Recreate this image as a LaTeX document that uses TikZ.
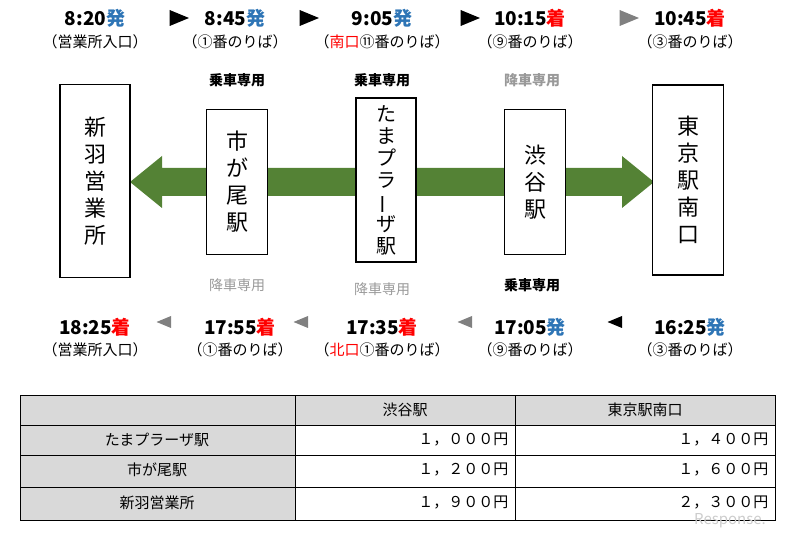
\documentclass[tikz,border=0pt]{standalone}
\usepackage{fontspec}
\setmainfont{Noto Sans CJK JP}
\usetikzlibrary{shapes.geometric}
\definecolor{hatsu}{RGB}{46,117,182}
\definecolor{chaku}{RGB}{255,0,0}
\definecolor{arrowgreen}{RGB}{84,130,53}
\definecolor{cellgray}{RGB}{217,217,217}
\newcommand{\hatsu}{\textcolor{hatsu}{発}}
\newcommand{\chaku}{\textcolor{chaku}{着}}
\newcommand{\vbar}{\rotatebox[origin=c]{90}{ー}}
\tikzset{
  time/.style={font=\bfseries\fontsize{19}{19}\selectfont},
  place/.style={font=\fontsize{15}{15}\selectfont},
  stop/.style={draw, line width=1.6pt, align=center, font=\fontsize{22}{27}\selectfont, inner sep=0pt},
  only/.style={font=\bfseries\fontsize{14}{14}\selectfont},
  tri/.style={isosceles triangle, fill, inner sep=0pt, minimum height=14pt, minimum width=16pt},
  cell/.style={font=\fontsize{15}{15}\selectfont}
}
\begin{document}
\begin{tikzpicture}[x=1pt,y=-1pt]
        \useasboundingbox (0,0) rectangle (796,540);
        % green arrow
        \fill[arrowgreen] (130,182) -- (162,156) -- (162,168) -- (622,168) -- (622,156) -- (654,182) -- (622,208) -- (622,196) -- (162,196) -- (162,208) -- cycle;
        % stops
        \node[stop, fill=white, minimum width=70pt, minimum height=193pt] (niwa) at (95,181) {新\\羽\\営\\業\\所};
        \node[stop, fill=white, minimum width=61pt, minimum height=145pt] (ichigao) at (237,182) {市\\が\\尾\\駅};
        \node[stop, fill=white, minimum width=60pt, minimum height=164pt, font=\fontsize{20}{22}\selectfont] (tama) at (386,180) {た\\ま\\プ\\ラ\\\vbar\\ザ\\駅};
        \node[stop, fill=white, minimum width=61pt, minimum height=145pt] (shibuya) at (535,182) {渋\\谷\\駅};
        \node[stop, fill=white, minimum width=71pt, minimum height=190pt] (tokyo) at (688,180) {東\\京\\駅\\南\\口};
        % boarding notes
        \node[only] (u1) at (237,80) {乗車専用};
        \node[only] (u2) at (382,80) {乗車専用};
        \node[only, gray!80] (u3) at (532,80) {降車専用};
        \node[only, gray!80, font=\fontsize{14}{14}\selectfont] (d1) at (237,285) {降車専用};
        \node[only, gray!80, font=\fontsize{14}{14}\selectfont] (d2) at (382,289) {降車専用};
        \node[only] (d3) at (532,285) {乗車専用};
        % outbound
        \node[time] (t1) at (95,18) {8:20\hatsu};
        \node[time] (t2) at (235,18) {8:45\hatsu};
        \node[time] (t3) at (382,18) {9:05\hatsu};
        \node[time] (t4) at (530,18) {10:15\chaku};
        \node[time] (t5) at (690,18) {10:45\chaku};
        \node[place] (p1) at (95,42) {（営業所入口）};
        \node[place] (p2) at (235,42) {（①番のりば）};
        \node[place] (p3) at (382,42) {（\textcolor{chaku}{南口}⑪番のりば）};
        \node[place] (p4) at (530,42) {（⑨番のりば）};
        \node[place] (p5) at (690,42) {（③番のりば）};
        \node[tri] (a1) at (175,18) {};
        \node[tri] (a2) at (305,18) {};
        \node[tri] (a3) at (466,18) {};
        \node[tri, gray] (a4) at (625,18) {};
        % inbound
        \node[time] (r1) at (95,327) {18:25\chaku};
        \node[time] (r2) at (240,327) {17:55\chaku};
        \node[time] (r3) at (382,327) {17:35\chaku};
        \node[time] (r4) at (530,327) {17:05\hatsu};
        \node[time] (r5) at (690,327) {16:25\hatsu};
        \node[place] (q1) at (95,350) {（営業所入口）};
        \node[place] (q2) at (240,350) {（①番のりば）};
        \node[place] (q3) at (382,350) {（\textcolor{chaku}{北口}①番のりば）};
        \node[place] (q4) at (530,350) {（⑨番のりば）};
        \node[place] (q5) at (690,350) {（③番のりば）};
        \node[tri, gray, shape border rotate=180, minimum height=10pt, minimum width=12pt] (b1) at (167,322) {};
        \node[tri, gray, shape border rotate=180, minimum height=10pt, minimum width=12pt] (b2) at (304,322) {};
        \node[tri, gray, shape border rotate=180, minimum height=10pt, minimum width=12pt] (b3) at (468,322) {};
        \node[tri, shape border rotate=180, minimum height=10pt, minimum width=12pt] (b4) at (618,322) {};
        % fare table
        \fill[cellgray] (20,395) rectangle (775,425);
        \fill[cellgray] (20,425) rectangle (295,520);
        \draw[line width=.8pt] (20,395) rectangle (775,520);
        \foreach \y in {425,455,487}
        \draw[line width=.6pt] (20,\y) -- (775,\y);
        \foreach \x in {295,515}
        \draw[line width=.6pt] (\x,395) -- (\x,520);
        \node[cell] (h1) at (405,410) {渋谷駅};
        \node[cell] (h2) at (645,410) {東京駅南口};
        \node[cell] (s1) at (157,440) {たまプラーザ駅};
        \node[cell] (s2) at (157,470) {市が尾駅};
        \node[cell] (s3) at (157,503) {新羽営業所};
        \node[cell, anchor=east] (f11) at (512,440) {１，０００円};
        \node[cell, anchor=east] (f12) at (772,440) {１，４００円};
        \node[cell, anchor=east] (f21) at (512,470) {１，２００円};
        \node[cell, anchor=east] (f22) at (772,470) {１，６００円};
        \node[cell, anchor=east] (f31) at (512,503) {１，９００円};
        \node[cell, anchor=east] (f32) at (772,503) {２，３００円};
        \node[gray!40, font=\itshape\fontsize{15}{15}\selectfont] (resp) at (730,521) {Response.};
\end{tikzpicture}
\end{document}
